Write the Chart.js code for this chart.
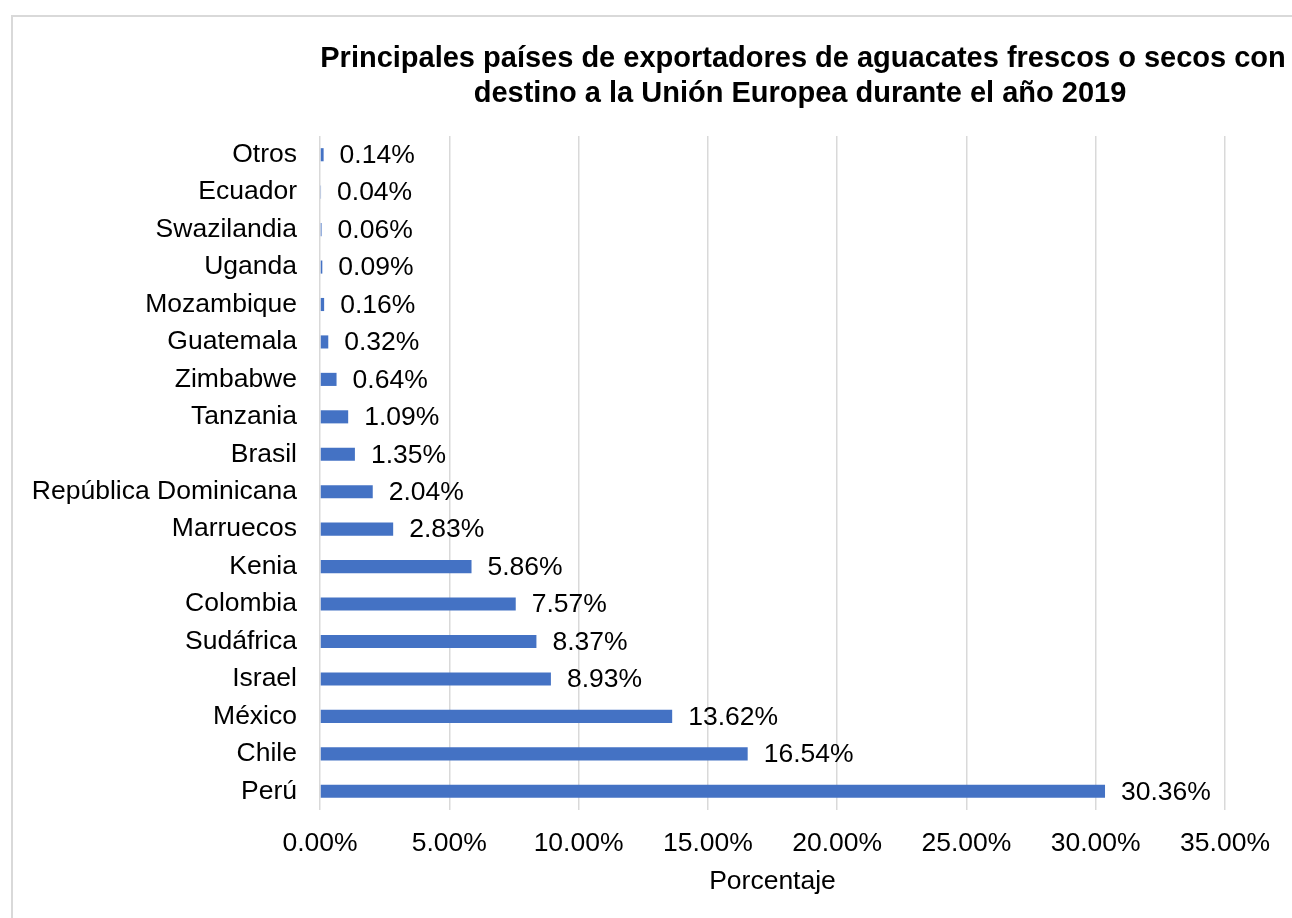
<!DOCTYPE html>
<html>
<head>
<meta charset="utf-8">
<script src="https://cdn.jsdelivr.net/npm/chart.js@4"></script>
<style>
  html, body { margin: 0; padding: 0; background: #fff; overflow: hidden; }
  #frame { position: absolute; left: 11px; top: 15px; width: 2000px; height: 2000px;
           border-left: 2px solid #d9d9d9; border-top: 2px solid #d9d9d9; }
  #wrap { position: absolute; left: 0; top: 0; width: 1292px; height: 918px; }
</style>
</head>
<body>
<div id="frame"></div>
<div id="wrap"><canvas id="c" width="1292" height="918"></canvas></div>
<script>
// ── Data ──
const countries = ['Otros', 'Ecuador', 'Swazilandia', 'Uganda', 'Mozambique', 'Guatemala',
  'Zimbabwe', 'Tanzania', 'Brasil', 'República Dominicana', 'Marruecos', 'Kenia',
  'Colombia', 'Sudáfrica', 'Israel', 'México', 'Chile', 'Perú'];
const shares = [0.14, 0.04, 0.06, 0.09, 0.16, 0.32, 0.64, 1.09, 1.35, 2.04, 2.83, 5.86,
  7.57, 8.37, 8.93, 13.62, 16.54, 30.36];
const titleLines = ['Principales países de exportadores de aguacates frescos o secos con',
  'destino a la Unión Europea durante el año 2019'];
const axisLabel = 'Porcentaje';

const FONT = "'Liberation Sans', Arial, sans-serif";
const pct = v => Number(v).toFixed(2) + '%';

// Title drawn off-centre like the original (centred over the frame, not the canvas)
const titlePlugin = {
  id: 'titleLines',
  afterDraw(chart) {
    const ctx = chart.ctx;
    ctx.save();
    ctx.font = 'bold 29px ' + FONT;
    ctx.fillStyle = '#000';
    ctx.textAlign = 'center';
    ctx.textBaseline = 'alphabetic';
    ctx.fillText(titleLines[0], 803, 67);
    ctx.fillText(titleLines[1], 800, 102);
    ctx.restore();
  }
};

// Value labels at the end of each bar
const valueLabels = {
  id: 'valueLabels',
  afterDatasetsDraw(chart) {
    const ctx = chart.ctx;
    const meta = chart.getDatasetMeta(0);
    ctx.save();
    ctx.font = '26.5px ' + FONT;
    ctx.fillStyle = '#000';
    ctx.textAlign = 'left';
    ctx.textBaseline = 'middle';
    meta.data.forEach((bar, i) => {
      ctx.fillText(pct(shares[i]), bar.x + 16, bar.y + 1);
    });
    ctx.restore();
  }
};

new Chart(document.getElementById('c'), {
  type: 'bar',
  data: {
    labels: countries,
    datasets: [{ data: shares, backgroundColor: '#4472c4', borderWidth: 0,
                 barPercentage: 0.35, categoryPercentage: 1 }]
  },
  options: {
    indexAxis: 'y',
    responsive: false,
    animation: false,
    events: [],
    layout: { padding: { top: 136, right: 67, left: 0, bottom: 0 } },
    plugins: { legend: { display: false }, tooltip: { enabled: false }, title: { display: false } },
    scales: {
      x: {
        min: 0, max: 35,
        ticks: { stepSize: 5, callback: v => pct(v), color: '#000', padding: 18,
                 font: { family: FONT, size: 26.5 }, maxRotation: 0, autoSkip: false },
        grid: { color: '#d9d9d9', lineWidth: 1.5, drawTicks: false },
        border: { display: false },
        title: { display: true, text: axisLabel, color: '#000',
                 font: { family: FONT, size: 26.5 }, padding: { top: 0, bottom: 20 } },
        afterFit: s => { s.height = 108; }
      },
      y: {
        ticks: { color: '#000', padding: 23, font: { family: FONT, size: 26.5 }, autoSkip: false },
        grid: { display: false, drawTicks: false },
        border: { display: false },
        afterFit: s => { s.width = 320; }
      }
    }
  },
  plugins: [titlePlugin, valueLabels]
});
</script>
</body>
</html>
